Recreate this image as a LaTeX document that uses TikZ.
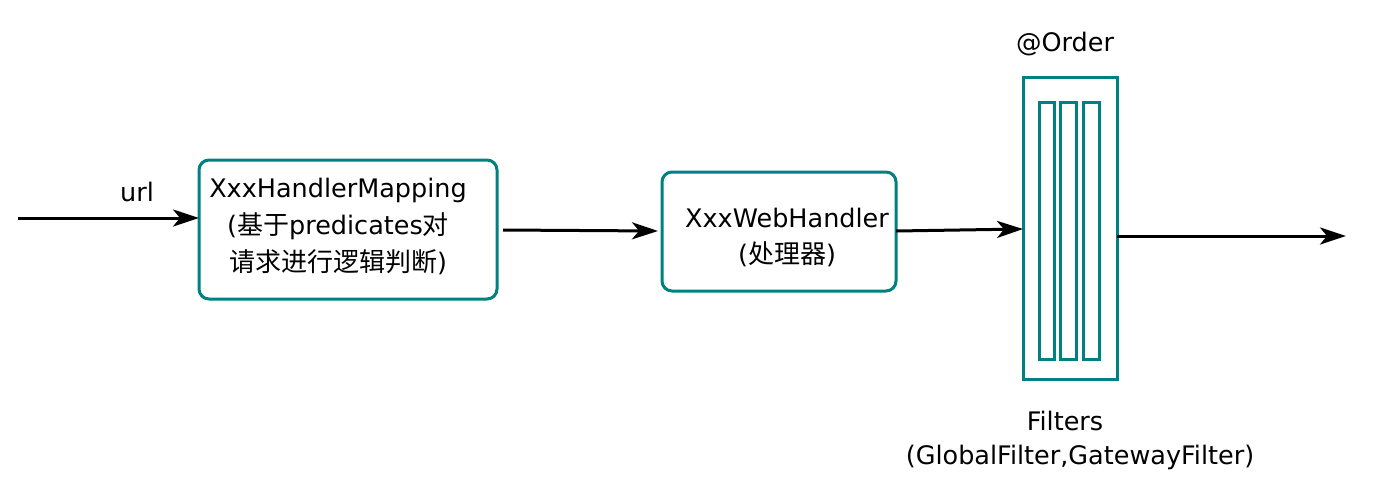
\documentclass[tikz,border=0pt]{standalone}
\usepackage{fontspec}
\setmainfont{DejaVu Sans}
\newfontfamily\cjk{Noto Sans CJK SC}
\usetikzlibrary{arrows.meta}
\definecolor{teal1}{RGB}{0,128,128}
\newcommand{\zh}[1]{{\cjk\fontsize{26}{30}\selectfont #1}}
\tikzset{
  box/.style={draw=teal1,line width=3pt,rounded corners=10pt},
  frame/.style={draw=teal1,line width=3pt},
  conn/.style={line width=3pt,-{Stealth[length=26pt,width=17pt,inset=7pt]}},
  lbl/.style={font=\fontsize{25.5}{30}\selectfont,align=center,inner sep=0pt}
}
\begin{document}
\begin{tikzpicture}[x=1pt,y=-1pt]
\useasboundingbox (0,0) rectangle (1383,496);
% boxes
\draw[box] (199,160) rectangle (497,299);
\node[lbl] (m1) at (338,190) {XxxHandlerMapping};
\node[lbl] (m2) at (338,226) {(\zh{基于}predicates\zh{对}};
\node[lbl] (m3) at (338,262) {\zh{请求进行逻辑判断})};
\coordinate (b1w) at (199,218);
\coordinate (b1e) at (497,230);
\draw[box] (662,172) rectangle (896,291);
\node[lbl] (w1) at (787,218) {XxxWebHandler};
\node[lbl] (w2) at (787,254) {(\zh{处理器})};
\coordinate (b2w) at (662,231);
\coordinate (b2e) at (896,231);
% filters
\draw[frame] (1023,77) rectangle (1117,379);
\draw[frame] (1039,102) rectangle (1054,359);
\draw[frame] (1060,102) rectangle (1076,359);
\draw[frame] (1083,102) rectangle (1099,359);
\coordinate (fw) at (1023,229);
\coordinate (fe) at (1117,236);
\node[lbl] (ord) at (1065,44) {@Order};
\node[lbl] (f1) at (1065,421) {Filters};
\node[lbl] (f2) at (1080,457) {(GlobalFilter,GatewayFilter)};
% connectors
\coordinate (s0) at (18,218);
\coordinate (t4) at (1346,236);
\node[lbl] (url) at (137,192) {url};
\draw[conn] (s0) -- (b1w);
\draw[conn] (503,230) -- ([xshift=-4pt]b2w);
\draw[conn] (b2e) -- (fw);
\draw[conn] (fe) -- (t4);
\end{tikzpicture}
\end{document}
